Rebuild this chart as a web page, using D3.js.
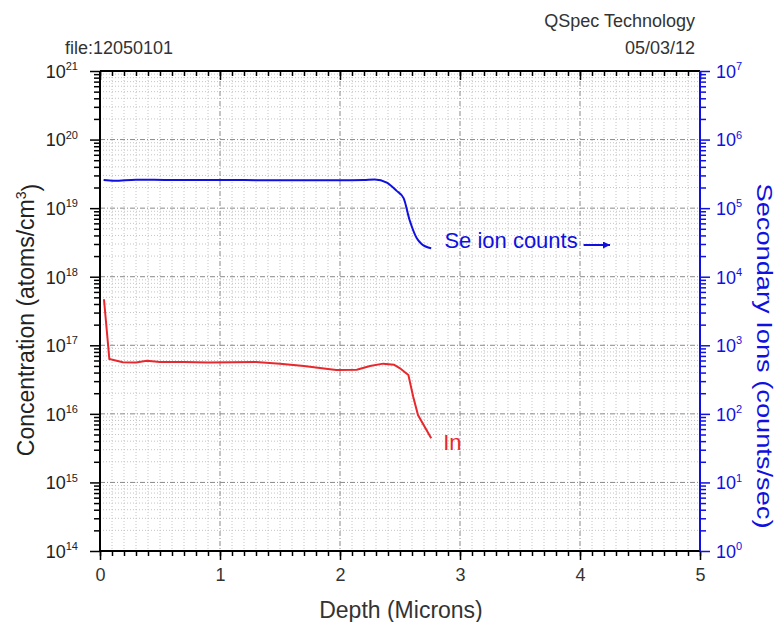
<!DOCTYPE html>
<html><head><meta charset="utf-8">
<script src="https://cdn.jsdelivr.net/npm/d3@7"></script>
<style>body{margin:0;background:#fff}text{font-family:"Liberation Sans",Arial,sans-serif}</style>
</head><body><svg id="c" width="776" height="622"></svg>
<script>
const xTicks = [0,1,2,3,4,5];
const leftExp = [14,15,16,17,18,19,20,21];
const rightExp = [0,1,2,3,4,5,6,7];
const seDepth = [0.03,0.12,0.3,0.6,1.0,1.4,1.8,2.0,2.2,2.29,2.39,2.47,2.53,2.58,2.64,2.68,2.76];
const seCounts = [2.57e5,2.5e5,2.6e5,2.57e5,2.58e5,2.55e5,2.56e5,2.55e5,2.58e5,2.62e5,2.35e5,1.8e5,1.4e5,6.7e4,3.63e4,3.0e4,2.6e4];
const inDepth = [0.033,0.078,0.19,0.3,0.39,0.5,0.7,0.9,1.1,1.3,1.5,1.7,1.9,1.97,2.14,2.25,2.36,2.45,2.5,2.57,2.61,2.65,2.76];
const inConc = [4.69e17,6.3e16,5.65e16,5.6e16,5.96e16,5.7e16,5.7e16,5.6e16,5.65e16,5.7e16,5.4e16,5.0e16,4.5e16,4.36e16,4.4e16,5.0e16,5.4e16,5.2e16,4.62e16,3.69e16,1.78e16,9.6e15,4.4e15];

(function(){
const svg = d3.select("#c");
const L=100,R=700,T=71,B=551;
const x = d3.scaleLinear().domain([0,5]).range([L,R]);
const yL = d3.scaleLog().domain([1e14,1e21]).range([B,T]);
const yR = d3.scaleLog().domain([1,1e7]).range([B,T]);
const blue="#1010e0", red="#e8282c";

const g = svg.append("g");
const minorX = d3.range(0,51).map(i=>i/10).filter(v=>Math.abs(v-Math.round(v))>1e-6);
g.selectAll(".mx").data(minorX).join("line").attr("x1",d=>x(d)).attr("x2",d=>x(d)).attr("y1",T).attr("y2",B)
 .attr("stroke","#c4c4c4").attr("stroke-width",1).attr("stroke-dasharray","1,2");
const minorY=[];
for(let e=14;e<21;e++) for(let m=2;m<10;m++) minorY.push(m*Math.pow(10,e));
g.selectAll(".my").data(minorY).join("line").attr("x1",L).attr("x2",R).attr("y1",d=>yL(d)).attr("y2",d=>yL(d))
 .attr("stroke","#c4c4c4").attr("stroke-width",1).attr("stroke-dasharray","1,2");
g.selectAll(".MX").data(xTicks.slice(1,-1)).join("line").attr("x1",d=>x(d)).attr("x2",d=>x(d)).attr("y1",T).attr("y2",B)
 .attr("stroke","#8a8a8a").attr("stroke-width",1).attr("stroke-dasharray","5,2,1,2");
g.selectAll(".MY").data(leftExp.slice(1,-1)).join("line").attr("x1",L).attr("x2",R).attr("y1",d=>yL(Math.pow(10,d))).attr("y2",d=>yL(Math.pow(10,d)))
 .attr("stroke","#8a8a8a").attr("stroke-width",1).attr("stroke-dasharray","5,2,1,2");

const xMinorAll = d3.range(0,51).map(i=>i/10);
const bottomMin = svg.append("g").attr("transform",`translate(0,${B})`)
 .call(d3.axisBottom(x).tickValues(xMinorAll).tickSize(5).tickFormat(""));
bottomMin.select(".domain").remove();
bottomMin.selectAll("line").attr("stroke","#000").attr("stroke-width",1.5);
const bottomMaj = svg.append("g").attr("transform",`translate(0,${B})`)
 .call(d3.axisBottom(x).tickValues(xTicks).tickSize(9).tickPadding(8).tickFormat(d3.format("d")));
bottomMaj.select(".domain").remove();
bottomMaj.selectAll("line").attr("stroke","#000").attr("stroke-width",1.5);
bottomMaj.selectAll("text").attr("font-size",18).attr("fill","#333").attr("font-family","Liberation Sans, Arial");
const topMin = svg.append("g").attr("transform",`translate(0,${T})`)
 .call(d3.axisBottom(x).tickValues(xMinorAll).tickSize(5).tickFormat(""));
topMin.select(".domain").remove();
topMin.selectAll("line").attr("stroke","#000").attr("stroke-width",1.5);
const topMaj = svg.append("g").attr("transform",`translate(0,${T})`)
 .call(d3.axisBottom(x).tickValues(xTicks).tickSize(9).tickFormat(""));
topMaj.select(".domain").remove();
topMaj.selectAll("line").attr("stroke","#000").attr("stroke-width",1.5);

const leftMinor = svg.append("g").attr("transform",`translate(${L},0)`)
 .call(d3.axisLeft(yL).tickValues(minorY).tickSize(6).tickFormat(""));
leftMinor.select(".domain").remove();
leftMinor.selectAll("line").attr("stroke","#000").attr("stroke-width",1.5);
const leftMaj = svg.append("g").attr("transform",`translate(${L},0)`)
 .call(d3.axisLeft(yL).tickValues(leftExp.map(e=>Math.pow(10,e))).tickSize(10).tickFormat(""));
leftMaj.select(".domain").remove();
leftMaj.selectAll("line").attr("stroke","#000").attr("stroke-width",1.5);
leftMaj.selectAll(".tick").append("text").attr("x",-22).attr("y",0).attr("dy","0.35em").attr("text-anchor","end")
 .attr("fill","#222").attr("font-size",18).text("10")
 .append("tspan").attr("dy","-0.7em").attr("font-size",11).text((d,i)=>leftExp[i]);

const rightMinor = svg.append("g").attr("transform",`translate(${R},0)`)
 .call(d3.axisRight(yR).tickValues(minorY.map(v=>v/1e14)).tickSize(6).tickFormat(""));
rightMinor.select(".domain").remove();
rightMinor.selectAll("line").attr("stroke",blue).attr("stroke-width",1.5);
const rightMaj = svg.append("g").attr("transform",`translate(${R},0)`)
 .call(d3.axisRight(yR).tickValues(rightExp.map(e=>Math.pow(10,e))).tickSize(10).tickFormat(""));
rightMaj.select(".domain").remove();
rightMaj.selectAll("line").attr("stroke",blue).attr("stroke-width",1.5);
rightMaj.selectAll(".tick").append("text").attr("x",16).attr("y",0).attr("dy","0.35em").attr("text-anchor","start")
 .attr("fill",blue).attr("font-size",18).text("10")
 .append("tspan").attr("dy","-0.7em").attr("font-size",11).text((d,i)=>rightExp[i]);

svg.append("line").attr("x1",L).attr("x2",R).attr("y1",T).attr("y2",T).attr("stroke","#000").attr("stroke-width",2);
svg.append("line").attr("x1",L).attr("x2",R).attr("y1",B).attr("y2",B).attr("stroke","#000").attr("stroke-width",2);
svg.append("line").attr("x1",L).attr("x2",L).attr("y1",T).attr("y2",B).attr("stroke","#000").attr("stroke-width",2);
svg.append("line").attr("x1",R).attr("x2",R).attr("y1",T).attr("y2",B).attr("stroke",blue).attr("stroke-width",2);

const seLine = d3.line().x((d,i)=>x(seDepth[i])).y(d=>yR(d)).curve(d3.curveMonotoneX);
svg.append("path").datum(seCounts).attr("d",seLine).attr("fill","none").attr("stroke",blue).attr("stroke-width",2);
const inLine = d3.line().x((d,i)=>x(inDepth[i])).y(d=>yL(d));
svg.append("path").datum(inConc).attr("d",inLine).attr("fill","none").attr("stroke",red).attr("stroke-width",2);

svg.append("text").attr("x",x(2.87)).attr("y",yR(2.6e4)).attr("fill",blue).attr("font-size",22).text("Se ion counts");
svg.append("defs").append("marker").attr("id","ar").attr("viewBox","0 0 10 10").attr("refX",10).attr("refY",5)
 .attr("markerWidth",11).attr("markerHeight",7).attr("markerUnits","userSpaceOnUse").attr("orient","auto")
 .append("path").attr("d","M0,0L10,5L0,10Z").attr("fill",blue);
svg.append("line").attr("x1",x(4.03)).attr("x2",x(4.25)).attr("y1",yR(2.9e4)).attr("y2",yR(2.9e4))
 .attr("stroke",blue).attr("stroke-width",2).attr("marker-end","url(#ar)");
svg.append("text").attr("x",x(2.86)).attr("y",yL(3.0e15)).attr("fill",red).attr("font-size",22).text("In");

svg.append("text").attr("x",695).attr("y",27).attr("text-anchor","end").attr("font-size",18).attr("fill","#333").text("QSpec Technology");
svg.append("text").attr("x",695).attr("y",54).attr("text-anchor","end").attr("font-size",18).attr("fill","#333").text("05/03/12");
svg.append("text").attr("x",65).attr("y",54).attr("font-size",18).attr("fill","#333").text("file:12050101");
svg.append("text").attr("x",401).attr("y",618).attr("text-anchor","middle").attr("font-size",23).attr("fill","#333").text("Depth (Microns)");
const ct = svg.append("text").attr("transform","translate(34,320) rotate(-90)").attr("text-anchor","middle").attr("font-size",23).attr("fill","#222");
ct.append("tspan").text("Concentration (atoms/cm");
ct.append("tspan").attr("dy","-0.6em").attr("font-size",14).text("3");
ct.append("tspan").attr("dy","0.6em").text(")");
svg.append("text").attr("transform","translate(757,356) rotate(90)").attr("text-anchor","middle").attr("font-size",22).attr("fill",blue)
 .attr("textLength",345).attr("lengthAdjust","spacingAndGlyphs")
 .text("Secondary Ions (counts/sec)");
})();
</script></body></html>
